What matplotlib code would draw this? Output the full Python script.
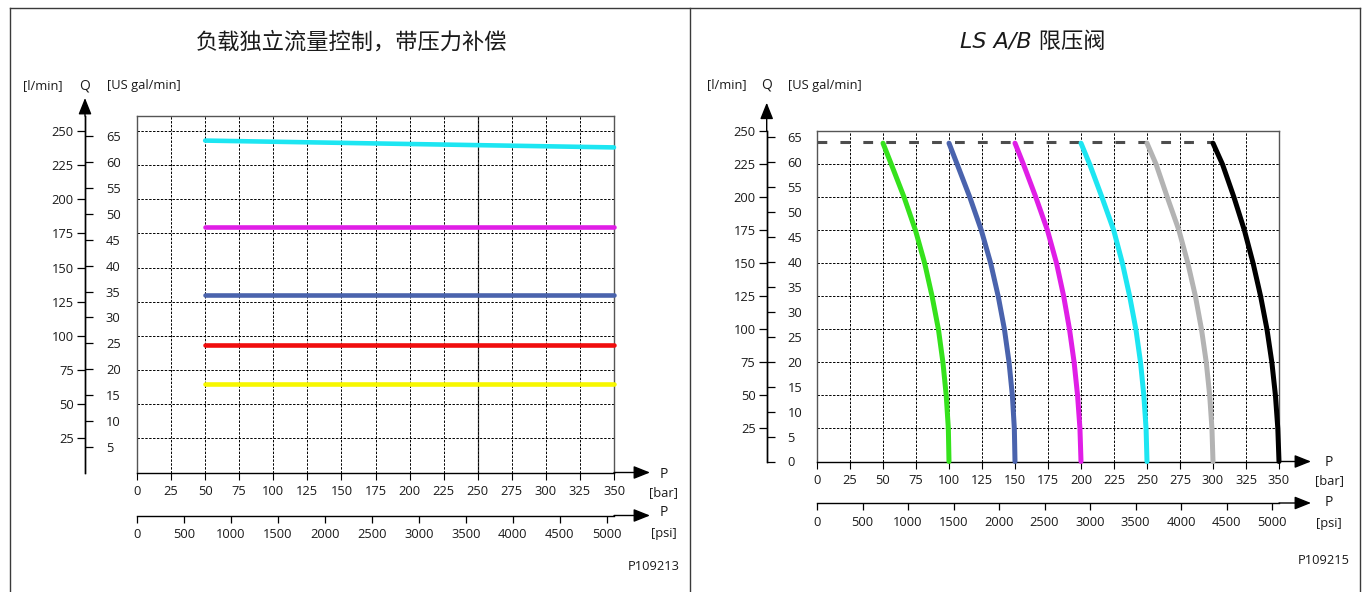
import numpy as np
import matplotlib
matplotlib.use("Agg")
import matplotlib.pyplot as plt
from matplotlib.lines import Line2D
from matplotlib.patches import ArrowStyle

W, H, DPI = 1362, 592, 100

# ---------------- data ----------------
bar_ticks = list(range(0, 351, 25))
psi_ticks = list(range(0, 5001, 500))
lmin_ticks = list(range(25, 251, 25))
gal_ticks_left = list(range(5, 66, 5))
gal_ticks_right = list(range(0, 66, 5))

left_title = "负载独立流量控制，带压力补偿"
right_title = "LS A/B 限压阀"
left_code = "P109213"
right_code = "P109215"

# Left chart: constant flow lines (bar -> l/min)
left_p = [50, 350]
left_cyan = [243, 238]
left_magenta = [180, 180]
left_blue = [130, 130]
left_red = [93, 93]
left_yellow = [65, 65]

# Right chart: pressure-limited flow curves (l/min -> bar)
right_q = [241, 225, 200, 175, 150, 125, 100, 75, 50, 25, 0]
right_green = [50, 56.3, 66.0, 74.6, 81.6, 87.2, 92.0, 95.4, 97.9, 99.5, 100]
right_blue = [100, 106.2, 115.8, 124.5, 131.6, 137.3, 142.0, 145.5, 148.0, 149.5, 150]
right_magenta = [150, 156.4, 165.8, 174.6, 181.5, 186.9, 191.3, 194.8, 197.4, 199.2, 200]
right_cyan = [200, 206.6, 215.9, 224.8, 231.4, 236.9, 241.6, 245.1, 247.6, 249.3, 250]
right_gray = [250, 256.9, 265.4, 274.2, 281.0, 286.7, 291.3, 294.9, 297.5, 299.2, 300]
right_black = [300, 307.2, 315.9, 323.8, 330.4, 336.1, 340.9, 344.6, 347.3, 349.1, 350]
limit_p = [0, 300]
limit_q = [242, 242]

L_PER_GAL = 3.78541
PSI_PER_BAR = 14.5038

plt.rcParams["font.family"] = ["Open Sans", "DejaVu Sans"]
TFS = 9.3
TXT = "#1a1a1a"

fig = plt.figure(figsize=(W / DPI, H / DPI), dpi=DPI)


def fx(px):
    return px / W


def fy(py):
    return 1 - py / H


def arrow(ax, xy0, xy1):
    ax.annotate("", xy=xy1, xytext=xy0, xycoords="axes fraction",
                textcoords="axes fraction", annotation_clip=False,
                arrowprops=dict(arrowstyle=ArrowStyle("-|>", head_length=0.5, head_width=0.2),
                                mutation_scale=20, lw=1.0, color="black",
                                shrinkA=0, shrinkB=0))


def make_panel(box, ytop, q_tip, p_tip, psi_ypx, gal_ticks, extra_solid):
    l, t, r, b = box
    ax = fig.add_axes([fx(l), fy(b), (r - l) / W, (b - t) / H])
    ax.set_xlim(0, 350)
    ax.set_ylim(0, ytop)
    for s in ["top", "right", "left"]:
        ax.spines[s].set_color("#555555")
        ax.spines[s].set_linewidth(1.0)
    ax.spines["bottom"].set_color("black")
    ax.spines["bottom"].set_linewidth(1.0)

    ax.set_xticks(bar_ticks)
    ax.set_xticklabels([str(v) for v in bar_ticks])
    ax.tick_params(axis="x", direction="out", length=5, width=0.8, pad=4,
                   labelsize=TFS, labelcolor=TXT)
    ax.set_yticks(lmin_ticks)
    ax.tick_params(axis="y", length=0, labelleft=False)
    ax.grid(True, color="black", lw=0.7, linestyle=(0, (2.5, 1.5)))
    for v in extra_solid:
        ax.axvline(v, color="#444444", lw=0.9, zorder=1.5)

    # Q axes (l/min on the left side, US gal/min on the right side)
    qx = -(box[0] - q_tip[0]) / (r - l)
    sl = ax.secondary_yaxis(qx, functions=(lambda y: y, lambda y: y))
    sl.set_yticks(lmin_ticks)
    sl.tick_params(direction="out", length=6, width=0.9, pad=2,
                   labelsize=TFS, labelcolor=TXT)
    sl.spines["left"].set_linewidth(1.0)

    sg = ax.secondary_yaxis(qx, functions=(lambda y: y / L_PER_GAL,
                                           lambda g: g * L_PER_GAL))
    sg.set_alignment("right")
    sg.set_yticks(gal_ticks)
    sg.tick_params(direction="out", length=6, width=0.9, pad=9,
                   labelsize=TFS, labelcolor=TXT)
    sg.spines["right"].set_linewidth(1.0)
    qtip_frac = (b - q_tip[1]) / (b - t)
    arrow(ax, (qx, 1.0), (qx, qtip_frac))

    # bar arrow
    ptip = (p_tip - l) / (r - l)
    arrow(ax, (1.0, 0.0), (ptip, 0.0))

    # psi axis
    psi_frac = -(psi_ypx - b) / (b - t)
    sp = ax.secondary_xaxis(psi_frac, functions=(lambda p: p * PSI_PER_BAR,
                                                 lambda s: s / PSI_PER_BAR))
    sp.set_xticks(psi_ticks)
    sp.set_xticklabels([str(v) for v in psi_ticks])
    sp.tick_params(direction="out", length=5, width=0.9, pad=4,
                   labelsize=TFS, labelcolor=TXT)
    sp.spines["bottom"].set_linewidth(1.0)
    arrow(ax, (1.0, psi_frac), (ptip, psi_frac))
    return ax


# ---------------- left panel ----------------
axL = make_panel((137, 116, 614, 472.5), 261, (85, 98), 650, 515.5,
                 gal_ticks_left, [250])
lw_l = 3.3
for vals, col in [(left_cyan, "#1de6f2"), (left_magenta, "#e01ee6"),
                  (left_blue, "#4a63ad"), (left_red, "#f00d0d"),
                  (left_yellow, "#f7f700")]:
    axL.plot(left_p, vals, color=col, lw=lw_l, solid_capstyle="round",
             clip_on=False, zorder=3)

# ---------------- right panel ----------------
axR = make_panel((817, 131.3, 1279, 461.5), 250, (766.7, 102.7), 1311, 503,
                 gal_ticks_right, [])
axR.plot(limit_p, limit_q, color="#4d4d4d", lw=2.2, linestyle=(0, (3.2, 4.3)),
         zorder=2.5, clip_on=False)
lw_r = 3.6
for vals, col in [(right_green, "#35e21c"), (right_blue, "#4a63ad"),
                  (right_magenta, "#e01ee6"), (right_cyan, "#1de6f2"),
                  (right_gray, "#b3b3b3"), (right_black, "#000000")]:
    axR.plot(vals, right_q, color=col, lw=lw_r, solid_capstyle="round",
             solid_joinstyle="round", clip_on=False, zorder=3)

# ---------------- texts ----------------
tfam = ["DejaVu Sans", "Noto Sans CJK SC"]
fig.text(fx(352), fy(42), left_title, ha="center", va="center", fontsize=16,
         style="italic", family=tfam, color=TXT)
fig.text(fx(1033), fy(42), right_title, ha="center", va="center", fontsize=16,
         style="italic", family=tfam, color=TXT)

HFS = 9.3
for (xl, xq, xg, yy) in [(43, 85, 107, 86), (727, 766.7, 788, 85)]:
    fig.text(fx(xl), fy(yy), "[l/min]", ha="center", va="center", fontsize=HFS, color=TXT)
    fig.text(fx(xq), fy(yy), "Q", ha="center", va="center", fontsize=HFS + 0.7, color=TXT)
    fig.text(fx(xg), fy(yy), "[US gal/min]", ha="left", va="center", fontsize=HFS, color=TXT)

for (xp, ys) in [(664, (474, 493, 513, 534)), (1329, (462, 481, 503, 523))]:
    fig.text(fx(xp), fy(ys[0]), "P", ha="center", va="center", fontsize=HFS + 0.7, color=TXT)
    fig.text(fx(xp), fy(ys[1]), "[bar]", ha="center", va="center", fontsize=HFS, color=TXT)
    fig.text(fx(xp), fy(ys[2]), "P", ha="center", va="center", fontsize=HFS + 0.7, color=TXT)
    fig.text(fx(xp), fy(ys[3]), "[psi]", ha="center", va="center", fontsize=HFS, color=TXT)

fig.text(fx(680), fy(567), left_code, ha="right", va="center", fontsize=HFS, color=TXT)
fig.text(fx(1350), fy(560), right_code, ha="right", va="center", fontsize=HFS, color=TXT)

# ---------------- frame ----------------
fc = "#3a3a3a"
for xs, ys in [((10, 1360), (8, 8)), ((10, 10), (8, 592)), ((690, 690), (8, 592)),
               ((1360, 1360), (8, 592))]:
    fig.add_artist(Line2D([fx(xs[0]), fx(xs[1])], [fy(ys[0]), fy(ys[1])],
                          transform=fig.transFigure, color=fc, lw=1.0))

fig.savefig("out.png", dpi=DPI)
